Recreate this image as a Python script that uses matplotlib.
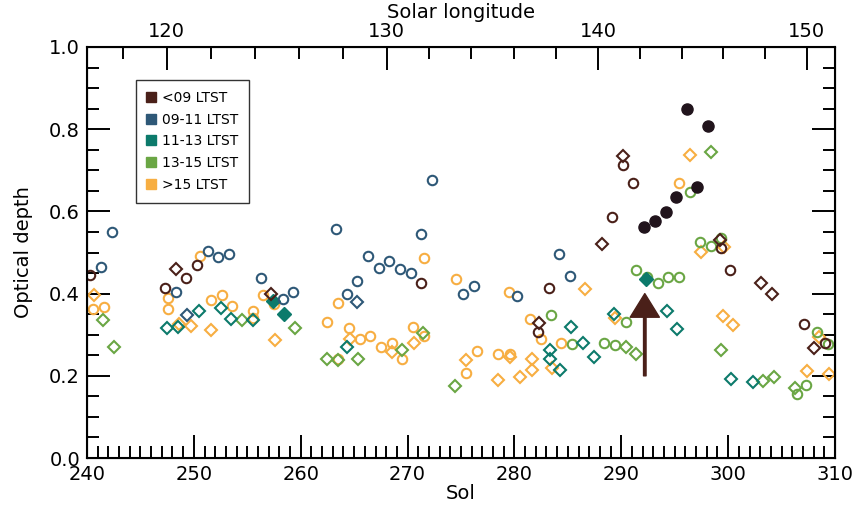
import matplotlib
matplotlib.use("Agg")
import matplotlib.pyplot as plt
from matplotlib.lines import Line2D
import numpy as np

# colours per local time bin
c_lt09 = '#4a2019'
c_0911 = '#2e5877'
c_1113 = '#0c7a6b'
c_1315 = '#6aa644'
c_gt15 = '#f7ae42'
c_dark = '#21141c'

# <09 LTST
lt09_circ_sol = [240.3, 247.3, 249.3, 250.26, 271.25, 282.2, 283.2, 289.1, 290.14, 291.1, 299.3, 300.15, 307.1, 309.1]
lt09_circ_tau = [0.446, 0.413, 0.439, 0.47, 0.426, 0.307, 0.414, 0.586, 0.714, 0.668, 0.512, 0.457, 0.325, 0.279]
lt09_dia_sol = [248.3, 257.2, 282.3, 288.2, 290.14, 299.2, 303.1, 304.1, 308.05]
lt09_dia_tau = [0.461, 0.4, 0.328, 0.521, 0.735, 0.53, 0.426, 0.4, 0.267]
lt09_fill_sol = [292.17, 293.16, 294.16, 295.1, 296.13, 297.1, 298.15]
lt09_fill_tau = [0.563, 0.577, 0.599, 0.636, 0.849, 0.659, 0.807]

# 09-11 LTST
b_circ_sol = [241.3, 242.34, 248.35, 251.3, 252.3, 253.3, 256.3, 258.3, 259.26, 263.3, 264.3, 265.3,
              266.26, 267.3, 268.3, 269.3, 270.3, 271.27, 272.27, 275.2, 276.2, 280.25, 284.2, 285.2]
b_circ_tau = [0.464, 0.549, 0.405, 0.503, 0.49, 0.496, 0.437, 0.387, 0.405, 0.558, 0.4, 0.431,
              0.492, 0.463, 0.48, 0.461, 0.45, 0.544, 0.676, 0.4, 0.419, 0.394, 0.496, 0.442]
b_dia_sol = [249.35, 265.3]
b_dia_tau = [0.349, 0.38]

# 11-13 LTST
t_dia_sol = [247.45, 248.5, 250.45, 252.5, 253.5, 255.5, 264.35, 283.3, 283.3, 284.3, 285.3, 286.4,
             287.4, 289.3, 294.3, 295.2, 300.3, 302.33]
t_dia_tau = [0.316, 0.318, 0.357, 0.366, 0.338, 0.337, 0.271, 0.262, 0.242, 0.215, 0.319, 0.28,
             0.247, 0.35, 0.358, 0.315, 0.193, 0.186]
t_fill_sol = [257.4, 258.4, 292.3]
t_fill_tau = [0.383, 0.351, 0.436]

# 13-15 LTST
g_circ_sol = [283.4, 285.4, 288.4, 289.4, 290.4, 291.4, 292.4, 293.4, 294.4, 295.4, 296.4, 297.4,
              298.4, 299.37, 306.4, 307.3, 308.35, 309.3]
g_circ_tau = [0.347, 0.277, 0.279, 0.274, 0.33, 0.457, 0.441, 0.426, 0.441, 0.441, 0.646, 0.526,
              0.516, 0.535, 0.155, 0.178, 0.306, 0.277]
g_dia_sol = [241.5, 242.5, 254.5, 259.46, 262.5, 263.5, 265.4, 269.5, 271.46, 274.4, 290.4, 291.4,
             298.4, 299.3, 303.3, 304.3, 306.3]
g_dia_tau = [0.336, 0.269, 0.337, 0.316, 0.242, 0.238, 0.241, 0.263, 0.304, 0.176, 0.271, 0.253,
             0.744, 0.264, 0.187, 0.198, 0.171]

# >15 LTST
o_circ_sol = [240.6, 241.6, 247.6, 247.6, 250.6, 251.6, 252.6, 253.56, 255.56, 255.5, 256.5, 257.5,
              262.5, 263.5, 263.5, 264.5, 265.54, 266.5, 267.5, 268.5, 269.5, 270.5, 271.5, 271.5,
              274.5, 275.5, 276.5, 278.5, 279.5, 279.6, 281.5, 282.5, 284.4, 295.4]
o_circ_tau = [0.362, 0.368, 0.39, 0.362, 0.492, 0.384, 0.396, 0.371, 0.358, 0.34, 0.396, 0.374,
              0.33, 0.376, 0.24, 0.317, 0.29, 0.298, 0.271, 0.281, 0.24, 0.318, 0.298, 0.487,
              0.435, 0.206, 0.26, 0.254, 0.403, 0.254, 0.338, 0.29, 0.279, 0.669]
o_dia_sol = [240.65, 248.6, 249.7, 251.6, 257.6, 264.6, 268.5, 270.6, 275.5, 278.5, 279.6, 280.5,
             281.6, 281.6, 283.5, 286.6, 289.45, 296.4, 297.5, 299.6, 299.5, 300.5, 307.4, 308.5, 309.4]
o_dia_tau = [0.397, 0.325, 0.32, 0.312, 0.288, 0.29, 0.257, 0.281, 0.238, 0.19, 0.245, 0.196,
             0.242, 0.214, 0.218, 0.41, 0.34, 0.737, 0.502, 0.513, 0.345, 0.324, 0.212, 0.295, 0.204]

# solar longitude vs sol
ls_major = [120, 130, 140, 150]
ls_major_sol = [247.45, 268.04, 287.84, 307.35]

arrow_sol = 292.2
arrow_tau = [0.2, 0.4]

legend_labels = ['<09 LTST', '09-11 LTST', '11-13 LTST', '13-15 LTST', '>15 LTST']
legend_colors = [c_lt09, c_0911, c_1113, c_1315, c_gt15]

plt.rcParams['font.family'] = 'DejaVu Sans'
fig = plt.figure(figsize=(8.58, 5.05), dpi=100)
ax = fig.add_axes([0.1014, 0.093, 0.8718, 0.814])

ms_c = 6.8
ms_d = 6.0
mew = 1.5

def opencirc(x, y, c):
    ax.plot(x, y, 'o', ls='none', mfc='none', mec=c, ms=ms_c, mew=mew)

def opendia(x, y, c):
    ax.plot(x, y, 'D', ls='none', mfc='none', mec=c, ms=ms_d, mew=mew)

opencirc(o_circ_sol, o_circ_tau, c_gt15)
opendia(o_dia_sol, o_dia_tau, c_gt15)
opencirc(g_circ_sol, g_circ_tau, c_1315)
opendia(g_dia_sol, g_dia_tau, c_1315)
opendia(t_dia_sol, t_dia_tau, c_1113)
ax.plot(t_fill_sol, t_fill_tau, 'D', ls='none', color=c_1113, ms=ms_d + 1.2)
opencirc(b_circ_sol, b_circ_tau, c_0911)
opendia(b_dia_sol, b_dia_tau, c_0911)
opencirc(lt09_circ_sol, lt09_circ_tau, c_lt09)
opendia(lt09_dia_sol, lt09_dia_tau, c_lt09)
ax.plot(lt09_fill_sol, lt09_fill_tau, 'o', ls='none', color=c_dark, ms=ms_c + 1.2)

ax.annotate('', xy=(arrow_sol, arrow_tau[1]), xytext=(arrow_sol, arrow_tau[0]),
            arrowprops=dict(facecolor=c_lt09, edgecolor=c_lt09, width=1.8,
                            headwidth=21, headlength=17, shrink=0))

ax.set_xlim(240, 310)
ax.set_ylim(0, 1.0)
ax.set_xticks(np.arange(240, 311, 10))
ax.set_xticks(np.arange(240, 311, 1), minor=True)
ax.set_yticks(np.arange(0, 1.01, 0.2))
ax.set_yticks(np.arange(0, 1.01, 0.05), minor=True)
ax.set_yticklabels(['0.0', '0.2', '0.4', '0.6', '0.8', '1.0'])
ax.tick_params(which='both', direction='in', width=1.4, labelsize=14,
               top=False, right=True, bottom=True, left=True)
ax.tick_params(which='major', length=16.5)
ax.tick_params(which='minor', length=8.5)
ax.tick_params(axis='x', pad=5)
ax.tick_params(axis='y', pad=5)
for s in ax.spines.values():
    s.set_linewidth(1.5)
ax.set_xlabel('Sol', fontsize=14, labelpad=0)
ax.set_ylabel('Optical depth', fontsize=14, labelpad=12)

# top axis: solar longitude
ax2 = ax.twiny()
ax2.set_xlim(ax.get_xlim())
slope0 = (ls_major_sol[1] - ls_major_sol[0]) / (ls_major[1] - ls_major[0])
slope1 = (ls_major_sol[-1] - ls_major_sol[-2]) / (ls_major[-1] - ls_major[-2])
ls_minor = np.arange(118, 153, 2)
minor_pos = []
for L in ls_minor:
    if L < ls_major[0]:
        minor_pos.append(ls_major_sol[0] + (L - ls_major[0]) * slope0)
    elif L > ls_major[-1]:
        minor_pos.append(ls_major_sol[-1] + (L - ls_major[-1]) * slope1)
    else:
        minor_pos.append(np.interp(L, ls_major, ls_major_sol))
minor_pos = [p for p in minor_pos if 240 <= p <= 310]
ax2.set_xticks(ls_major_sol)
ax2.set_xticklabels([str(v) for v in ls_major])
ax2.set_xticks(minor_pos, minor=True)
ax2.tick_params(which='both', direction='in', width=1.4, labelsize=14, pad=4)
ax2.tick_params(which='major', length=16.5)
ax2.tick_params(which='minor', length=8.5)
ax2.set_xlabel('Solar longitude', fontsize=14, labelpad=3)

handles = [Line2D([], [], marker='s', ls='none', color=c, ms=6.5) for c in legend_colors]
leg = ax.legend(handles, legend_labels, loc='upper left', bbox_to_anchor=(0.065, 0.92),
                fontsize=10, frameon=True, fancybox=False, handlelength=0.6,
                handletextpad=0.5, borderpad=0.8, labelspacing=0.55, borderaxespad=0)
leg.get_frame().set_edgecolor('black')
leg.get_frame().set_linewidth(1.0)

fig.savefig('out.png', dpi=100)
